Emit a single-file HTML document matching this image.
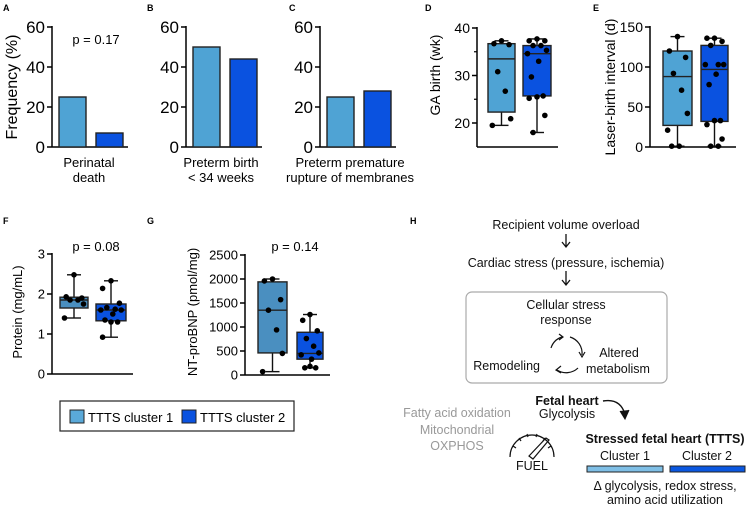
<!DOCTYPE html>
<html><head><meta charset="utf-8"><style>
body{margin:0;background:#fff}
svg{display:block;font-family:"Liberation Sans",Arial,sans-serif}
</style></head><body>
<svg id="fig" width="751" height="507" viewBox="0 0 751 507">
<g font-weight="bold" font-size="9" fill="#000">
<text x="3" y="11">A</text>
<text x="147" y="11">B</text>
<text x="289" y="11">C</text>
<text x="425" y="11">D</text>
<text x="593" y="11">E</text>
<text x="3" y="224">F</text>
<text x="147" y="224">G</text>
<text x="410" y="224">H</text>
</g>
<g id="charts"></g>
<g id="legend">
<rect x="60" y="401" width="234" height="30" fill="#fff" stroke="#222" stroke-width="1.2"/>
<rect x="70" y="410" width="14" height="13" fill="#5aa9d9" stroke="#222"/>
<text x="88" y="422" font-size="13">TTTS cluster 1</text>
<rect x="182" y="410" width="14" height="13" fill="#0a52e0" stroke="#222"/>
<text x="200" y="422" font-size="13">TTTS cluster 2</text>
</g>
<g id="diagram" font-size="12.5" text-anchor="middle" fill="#111">
<text x="566" y="229">Recipient volume overload</text>
<path d="M566 234 V246 M562 242 L566 247 L570 242" fill="none" stroke="#111" stroke-width="1.3"/>
<text x="566" y="267">Cardiac stress (pressure, ischemia)</text>
<path d="M566 271 V284 M562 280 L566 285 L570 280" fill="none" stroke="#111" stroke-width="1.3"/>
<rect x="466" y="292" width="201" height="91" rx="6" fill="#fff" stroke="#aaa" stroke-width="1.2"/>
<text x="566" y="309">Cellular stress</text>
<text x="566" y="324">response</text>
<g fill="none" stroke="#111" stroke-width="1.2">
<path d="M551 348 A17 17 0 0 1 562 337"/><path d="M559 334 L563 337 L559 340"/>
<path d="M570 337 A17 17 0 0 1 582 355"/><path d="M579 352 L582 357 L585 352"/>
<path d="M578 368 A17 17 0 0 1 557 370"/><path d="M561 366 L556 370 L561 373"/>
</g>
<text x="540" y="370" text-anchor="end">Remodeling</text>
<text x="619" y="357">Altered</text>
<text x="618" y="373">metabolism</text>
<text x="567" y="405" font-weight="bold">Fetal heart</text>
<text x="567" y="418">Glycolysis</text>
<path d="M603 401 Q620 398 625 414" fill="none" stroke="#111" stroke-width="1.4"/>
<path d="M620 411 L625 419 L629 410" fill="#111" stroke="#111"/>
<g fill="#999">
<text x="457" y="417">Fatty acid oxidation</text>
<text x="457" y="434">Mitochondrial</text>
<text x="457" y="450">OXPHOS</text>
</g>
<g fill="none" stroke="#111" stroke-width="1.2">
<path d="M510 457 A22 22 0 0 1 554 457"/>
<path d="M513 446 L516 448 M519 438 L521 441 M527 434 L528 437 M537 434 L536 437 M545 438 L543 441 M551 446 L548 448"/>
<path d="M529 456 L546 438 L549 440 L533 459 Z"/>
</g>
<text x="532" y="470">FUEL</text>
<text x="665" y="443" font-weight="bold">Stressed fetal heart (TTTS)</text>
<text x="625" y="460">Cluster 1</text>
<text x="707" y="460">Cluster 2</text>
<rect x="587" y="466" width="76" height="6" fill="#7fbfe6" stroke="#222"/>
<rect x="670" y="466" width="75" height="6" fill="#0a57e0" stroke="#222"/>
<text x="665" y="490">Δ glycolysis, redox stress,</text>
<text x="665" y="504">amino acid utilization</text>
</g>
</svg>
<script>
// Bar data (A-C)
const barCategories = ["perinatal-death","preterm-birth","pprom"];
const barCluster1 = [25, 50, 25];
const barCluster2 = [7, 44, 28];
const barTicks = [0, 20, 40, 60];
// D: points and box stats [min, q1, median, q3, max]
const dCluster1 = [37.3, 36.7, 36.5, 30.8, 26.7, 20.9, 19.5];
const dCluster2 = [37.7, 37.3, 37.3, 36.3, 36.3, 35.3, 34.6, 33, 29.7, 25.7, 25.5, 25.2, 21.6, 18];
const dStats1 = [19.5, 22.3, 33.5, 36.7, 37.3];
const dStats2 = [18, 25.7, 34.6, 36.3, 37.7];
const dTicks = [20, 30, 40];
// E
const eCluster1 = [138, 120, 112, 92, 71, 42, 21, 1, 1];
const eCluster2 = [136, 136, 132, 127, 103, 103, 103, 91, 78, 33, 33, 28, 10, 1, 1];
const eStats1 = [1, 27, 88, 120, 138];
const eStats2 = [1, 32, 97, 127, 136];
const eTicks = [0, 50, 100, 150];
// F
const fCluster1 = [2.48, 1.93, 1.9, 1.85, 1.85, 1.75, 1.4];
const fCluster2 = [2.33, 2.14, 1.77, 1.66, 1.62, 1.6, 1.6, 1.5, 1.35, 1.3, 1.3, 0.92];
const fStats1 = [1.4, 1.65, 1.85, 1.92, 2.48];
const fStats2 = [0.92, 1.33, 1.6, 1.75, 2.33];
const fTicks = [0, 1, 2, 3];
// G
const gCluster1 = [2000, 1960, 1570, 1350, 940, 450, 70];
const gCluster2 = [1260, 1140, 920, 760, 600, 460, 420, 330, 150, 150, 180];
const gStats1 = [70, 460, 1350, 1940, 2000];
const gStats2 = [150, 330, 450, 890, 1260];
const gTicks = [0, 500, 1000, 1500, 2000, 2500];

const NS = "http://www.w3.org/2000/svg";
const root = document.getElementById("charts");
function mk(tag, attrs, parent) {
  const e = document.createElementNS(NS, tag);
  for (const k in attrs) e.setAttribute(k, attrs[k]);
  (parent || root).appendChild(e);
  return e;
}
function txt(s, attrs, parent) { const t = mk("text", attrs, parent); t.textContent = s; return t; }
function scale(d0, d1, r0, r1) { return v => r0 + (v - d0) * (r1 - r0) / (d1 - d0); }

function axis(g, x, yTop, yBot, xEnd, ticks, y, fs, minor) {
  mk("line", {x1:x, y1:yTop-1, x2:x, y2:yBot, stroke:"#000", "stroke-width":1.5}, g);
  mk("line", {x1:x, y1:yBot, x2:xEnd, y2:yBot, stroke:"#000", "stroke-width":1.5}, g);
  ticks.forEach(t => {
    mk("line", {x1:x-5, y1:y(t), x2:x, y2:y(t), stroke:"#000", "stroke-width":1.5}, g);
    const lab = txt(String(t), {x:x-7, y:y(t)+fs*0.36, "font-size":fs, "text-anchor":"end"}, g);
    
    
  });
  (minor||[]).forEach(t => mk("line", {x1:x-3, y1:y(t), x2:x, y2:y(t), stroke:"#000", "stroke-width":1.2}, g));
}
function ylabel(g, s, x, cy, fs) {
  const t = txt(s, {transform:`translate(${x},${cy}) rotate(-90)`, "font-size":fs, "text-anchor":"middle"}, g);
  
  
}
function box(g, data, st, x0, x1, y, color, name) {
  const [mn, q1, med, q3, mx] = st, cx = (x0+x1)/2;
  const bg = mk("g", {}, g);
  
  
  mk("line", {x1:cx, y1:y(mx), x2:cx, y2:y(mn), stroke:"#111", "stroke-width":1.4}, bg);
  mk("line", {x1:cx-7, y1:y(mx), x2:cx+7, y2:y(mx), stroke:"#111", "stroke-width":1.4}, bg);
  mk("line", {x1:cx-7, y1:y(mn), x2:cx+7, y2:y(mn), stroke:"#111", "stroke-width":1.4}, bg);
  mk("rect", {x:x0, y:y(q3), width:x1-x0, height:y(q1)-y(q3), fill:color, stroke:"#222", "stroke-width":1.4}, bg);
  mk("line", {x1:x0, y1:y(med), x2:x1, y2:y(med), stroke:"#222", "stroke-width":1.4}, bg);
  const w = x1 - x0;
  const offs = [0, -0.7, 0.7, -0.35, 0.35, 0.85, -0.85, 0.15, -0.5, 0.55];
  data.forEach((v, i) => {
    const off = offs[i % offs.length] * (w * 0.4);
    const p = mk("circle", {cx:cx+off, cy:y(v), r:2.8, fill:"#000"}, bg);
    
    
  });
}

// Bar panels
const barPanels = [
  {ax:52, labels:["Perinatal","death"], lc:89, p:"p = 0.17"},
  {ax:186, labels:["Preterm birth","< 34 weeks"], lc:221},
  {ax:320, labels:["Preterm premature","rupture of membranes"], lc:350}
];
const yBar = scale(0, 60, 147, 27);
barCategories.forEach((c, i) => {
  const P = barPanels[i];
  const g = mk("g", {});
  
  
  axis(g, P.ax, 27, 147, P.ax+76, barTicks, yBar, 17);
  [[barCluster1[i], "#4fa3d4", 7], [barCluster2[i], "#0a52e0", 44]].forEach(([v, col, dx], k) => {
    const r = mk("rect", {x:P.ax+dx, y:yBar(v), width:27, height:147-yBar(v), fill:col, stroke:"#222", "stroke-width":1.4}, g);
    
    
  });
  P.labels.forEach((l, j) => {
    const t = txt(l, {x:P.lc, y:167+j*15, "font-size":13, "text-anchor":"middle"}, g);
    
    
  });
  if (P.p) {
    const t = txt(P.p, {x:96, y:44, "font-size":13, "text-anchor":"middle"}, g);
    
    
  }
});
ylabel(root, "Frequency (%)", 17, 87, 16);

// D
(function(){
  const g = mk("g", {});  
  const y = scale(20, 40, 123, 28);
  axis(g, 477, 28, 147, 558, dTicks, y, 14, [25, 35]);
  box(g, dCluster1, dStats1, 488, 515, y, "#4fa3d4", "box-cluster-1");
  box(g, dCluster2, dStats2, 523, 551, y, "#0a52e0", "box-cluster-2");
  ylabel(g, "GA birth (wk)", 440, 75, 14);
})();
// E
(function(){
  const g = mk("g", {});  
  const y = scale(0, 150, 147, 27);
  axis(g, 650, 27, 147, 736, eTicks, y, 14);
  box(g, eCluster1, eStats1, 663, 692, y, "#4fa3d4", "box-cluster-1");
  box(g, eCluster2, eStats2, 701, 728, y, "#0a52e0", "box-cluster-2");
  ylabel(g, "Laser-birth interval (d)", 615, 87, 14);
})();
// F
(function(){
  const g = mk("g", {});  
  const y = scale(0, 3, 374, 254);
  axis(g, 52, 254, 374, 133, fTicks, y, 13);
  box(g, fCluster1, fStats1, 60, 88, y, "#4a8fc0", "box-cluster-1");
  box(g, fCluster2, fStats2, 96, 126, y, "#0a52e0", "box-cluster-2");
  ylabel(g, "Protein (mg/mL)", 22, 312, 13);
  const t = txt("p = 0.08", {x:96, y:251, "font-size":13, "text-anchor":"middle"}, g);
   
})();
// G
(function(){
  const g = mk("g", {});  
  const y = scale(0, 2500, 375, 255);
  axis(g, 245, 255, 375, 330, gTicks, y, 13);
  box(g, gCluster1, gStats1, 258, 287, y, "#4a8fc0", "box-cluster-1");
  box(g, gCluster2, gStats2, 297, 323, y, "#0a52e0", "box-cluster-2");
  ylabel(g, "NT-proBNP (pmol/mg)", 197, 312, 13);
  const t = txt("p = 0.14", {x:295, y:251, "font-size":13, "text-anchor":"middle"}, g);
   
})();
</script>
</body></html>
